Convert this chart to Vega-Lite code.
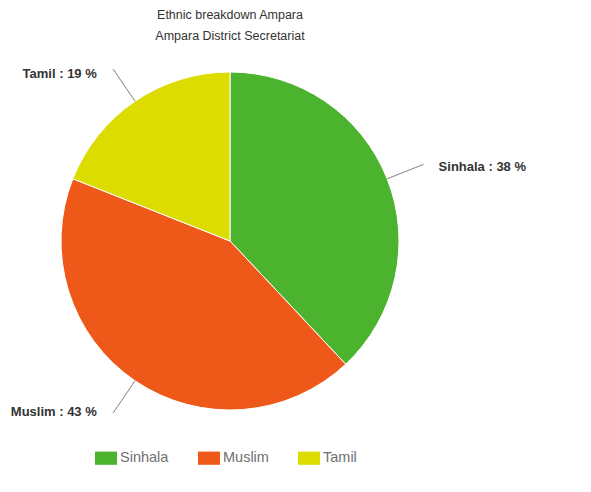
{
  "$schema": "https://vega.github.io/schema/vega-lite/v6.json",
  "width": 460,
  "height": 362,
  "autosize": {"type": "none"},
  "padding": {"left": 0, "top": 60, "right": 131, "bottom": 70},
  "background": "white",
  "title": {
    "text": ["Ethnic breakdown Ampara", "Ampara District Secretariat"],
    "anchor": "middle",
    "frame": "group",
    "font": "Liberation Sans",
    "fontSize": 12.5,
    "fontWeight": "normal",
    "color": "#333333",
    "lineHeight": 21,
    "offset": 18
  },
  "data": {
    "values": [
      {"group": "Sinhala", "percent": 38, "order": 1},
      {"group": "Muslim", "percent": 43, "order": 2},
      {"group": "Tamil", "percent": 19, "order": 3}
    ]
  },
  "encoding": {
    "theta": {"field": "percent", "type": "quantitative", "stack": true},
    "order": {"field": "order", "type": "quantitative"}
  },
  "layer": [
    {
      "mark": {"type": "arc", "outerRadius": 169, "stroke": "white", "strokeWidth": 1},
      "encoding": {
        "color": {
          "field": "group",
          "type": "nominal",
          "scale": {"domain": ["Sinhala", "Muslim", "Tamil"], "range": ["#4cb32f", "#ee5819", "#dcdc00"]},
          "legend": {
            "title": null,
            "orient": "none",
            "legendX": 95,
            "legendY": 387,
            "direction": "horizontal",
            "symbolType": "M-1,-0.6H1V0.6H-1Z",
            "symbolSize": 484,
            "symbolStrokeWidth": 0,
            "symbolOpacity": 1,
            "labelFont": "Liberation Sans",
            "labelFontSize": 14.5,
            "labelColor": "#707070",
            "labelOffset": 3,
            "columnPadding": 29
          }
        }
      }
    },
    {
      "mark": {"type": "arc", "radius": 208, "radius2": 169, "padAngle": 3.14, "fill": null, "stroke": "#a0a0a0", "strokeWidth": 1},
      "encoding": {}
    },
    {
      "mark": {
        "type": "text",
        "radius": 205,
        "font": "Liberation Sans",
        "fontSize": 13,
        "fontWeight": "bold",
        "color": "#333333",
        "baseline": "middle",
        "align": {"expr": "datum.group === 'Sinhala' ? 'left' : 'right'"},
        "dx": {"expr": "datum.group === 'Sinhala' ? 18 : -18"},
        "dy": {"expr": "datum.group === 'Tamil' ? 3 : 1"}
      },
      "encoding": {
        "text": {"field": "label", "type": "nominal"}
      },
      "transform": [
        {"calculate": "datum.group + ' : ' + datum.percent + ' %'", "as": "label"}
      ]
    }
  ]
}
